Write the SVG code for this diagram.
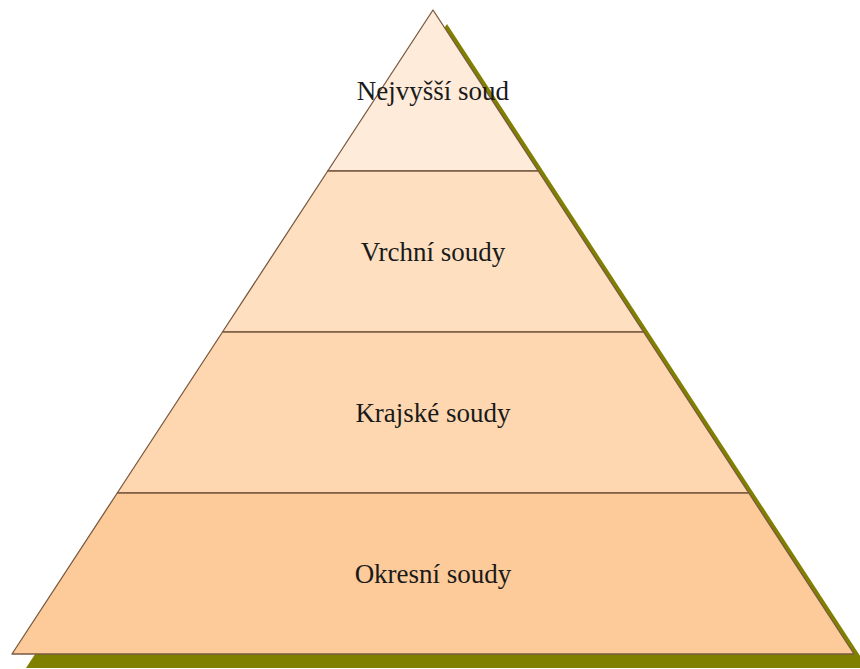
<svg xmlns="http://www.w3.org/2000/svg" width="860" height="669" viewBox="0 0 860 669">
<style>
.band{stroke:#7a5a40;stroke-width:1.3;stroke-linejoin:round}
.lbl{font-family:"Liberation Serif","Times New Roman",serif;font-size:27px;fill:#1a1a1a;text-anchor:middle}
</style>
<rect width="860" height="669" fill="#ffffff"/>
<g id="shadow">
<polygon points="447,24 26,668 868,668" fill="#808000"/>
</g>
<g id="level1">
<polygon class="band" points="433,10 327.75,171 538.25,171" fill="#ffebd9"/>
<text class="lbl" x="433" y="100">Nejvyšší soud</text>
</g>
<g id="level2">
<polygon class="band" points="327.75,171 538.25,171 643.5,332 222.5,332" fill="#fee0c1"/>
<text class="lbl" x="433" y="261">Vrchní soudy</text>
</g>
<g id="level3">
<polygon class="band" points="222.5,332 643.5,332 748.75,493 117.25,493" fill="#fed7b0"/>
<text class="lbl" x="433" y="422">Krajské soudy</text>
</g>
<g id="level4">
<polygon class="band" points="117.25,493 748.75,493 854,654 12,654" fill="#fdcb99"/>
<text class="lbl" x="433" y="583">Okresní soudy</text>
</g>
<g id="connectors"></g>
</svg>
